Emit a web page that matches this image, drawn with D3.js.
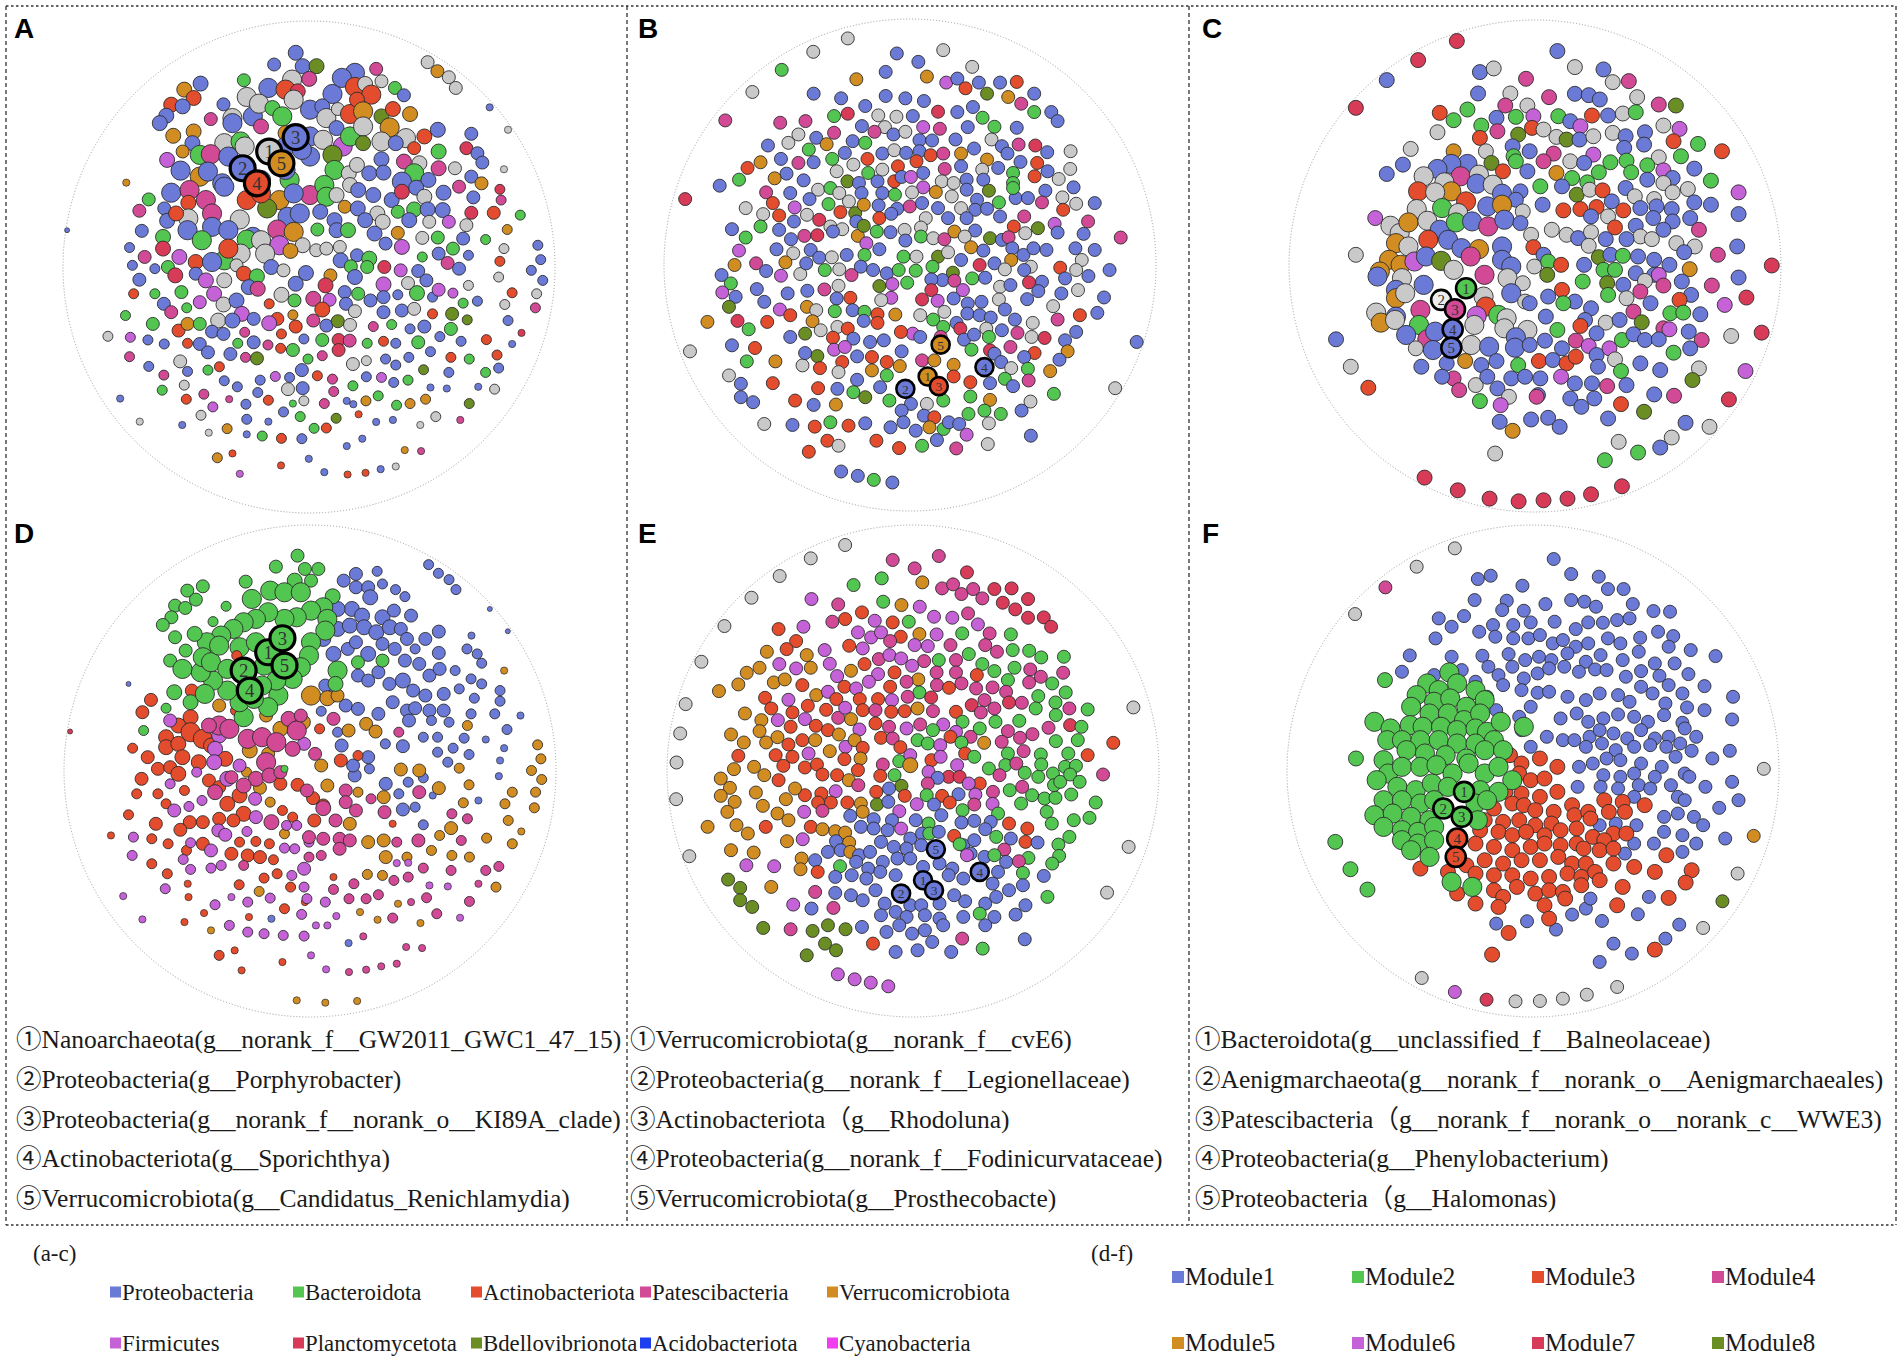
<!DOCTYPE html>
<html>
<head>
<meta charset="utf-8">
<script src="https://cdn.jsdelivr.net/npm/d3@7"></script>
<style>
  body { margin: 0; background: #fff; }
</style>
</head>
<body>
<div id="chart"></div>
<script>
////////////////////////////////////////////////////////
//////////////////// Data //////////////////////////////
////////////////////////////////////////////////////////

// node colour codes -> colours (phyla for a-c, modules for d-f share the palette)
let nodeCodes = ["b", "g", "r", "p", "o", "v", "c", "l", "y"];
let nodeColors = ["#6b7ad6", "#52c650", "#e34c2c", "#d24a96", "#d18d22", "#c662d8", "#d83b58", "#6b8e24", "#c9c9c9"];

let phyla = ["Proteobacteria", "Bacteroidota", "Actinobacteriota", "Patescibacteria", "Verrucomicrobiota",
             "Firmicutes", "Planctomycetota", "Bdellovibrionota", "Acidobacteriota", "Cyanobacteria"];
let phylaColors = ["#6b7ad6", "#52c650", "#e34c2c", "#d24a96", "#d18d22",
                   "#c662d8", "#d83b58", "#6b8e24", "#1d3ff0", "#f03df0"];

let modules = ["Module1", "Module2", "Module3", "Module4", "Module5", "Module6", "Module7", "Module8"];
let moduleColors = ["#6b7ad6", "#52c650", "#e34c2c", "#d24a96", "#d18d22", "#c662d8", "#d83b58", "#6b8e24"];

// node layout coordinates: "x,y,code+degreeClass"
let nodesA = [["b3",
 "725,160,b4 672,195,b3 742,200,b4 776,200,l4 922,208,p3 1048,188,y3 1072,215,o3 1100,233,y3 870,220,b5 716,240,y5 " +
 "492,252,b4 452,270,o4 475,295,r4 598,242,g3 658,265,b5 700,270,r5 730,275,c4 758,238,p4 815,283,b5 838,235,b5 870,262,r5 895,253,y4 910,285,r5 935,245,y3 968,265,g3 990,287,b3 1117,265,y3 605,292,y5 720,300,y5 " +
 "420,315,r4 448,320,b4 408,348,b4 392,370,b4 517,358,p3 548,314,b3 570,355,y5 620,350,b5 635,312,y5 668,325,g4 692,350,g5 760,330,b5 790,320,b4 800,355,y5 828,328,y3 858,343,r5 875,300,r4 890,335,o5 935,350,l4 955,383,o5 963,328,r4 1005,343,o4 1200,323,b1 " +
 "425,408,o4 475,395,o4 472,430,b4 550,430,y5 590,425,g5 760,410,b5 792,420,y5 825,385,b4 840,440,v5 858,410,g5 890,380,y5 890,430,l4 935,425,y5 995,415,y5 970,430,b4 1040,410,r4 1073,390,b4 1015,445,r3 1155,402,b3 1245,390,y1 570,370,b5 640,380,p4 700,400,o4 " +
 "410,480,v4 448,455,o3 490,465,g5 517,463,p5 760,470,b5 815,465,l5 935,478,b4 990,485,p4 1028,490,y4 1075,455,g4 1143,445,c3 1170,460,b3 1182,488,b3 560,470,b5 600,440,y5 700,440,b5 740,450,b5 " +
 "443,512,b5 490,530,o5 510,515,b5 640,540,b5 710,540,g5 820,510,g5 855,520,y4 875,495,y4 905,520,b4 940,518,b4 1015,520,g5 985,545,b5 1050,540,b4 1075,505,p4 1115,505,y3 1155,530,b3 1235,508,y1 310,548,o1 545,550,b5 700,510,b5 " +
 "420,578,b5 465,570,p5 365,598,g3 462,608,r4 505,600,p5 550,560,b5 605,600,r5 685,600,o5 760,585,p5 795,555,g5 800,590,g5 825,585,y4 858,555,y4 878,570,b4 915,585,b4 960,600,b4 985,575,c4 1020,563,b4 1180,550,o3 1160,592,b3 1225,568,c2 1228,600,p2 1125,560,p3 1087,578,b4 1040,590,y4 655,625,l5 640,580,r5 720,580,b5 " +
 "342,632,p3 403,625,b3 462,655,y5 520,640,p5 410,662,b4 588,658,y5 705,650,b5 735,640,b5 785,635,b4 845,620,o3 877,625,b4 925,640,y4 975,635,g3 1015,628,g4 1003,660,b4 1048,628,b4 1085,630,b4 1052,665,y3 1100,665,v3 1155,638,c3 1210,638,r3 1275,645,g2 895,660,b4 938,665,y4 820,660,b4 432,640,r4 " +
 "348,692,b3 460,690,b5 520,680,b5 560,690,b5 620,710,b5 680,688,p5 720,695,o5 400,710,g4 495,720,g5 605,718,g5 640,720,y5 778,688,g3 825,690,b4 853,690,g4 918,700,b4 975,698,o3 1035,713,y3 1073,712,g3 1143,675,y3 1135,715,b3 1190,718,g2 1243,688,o2 1318,735,b2 742,735,y4 775,750,y3 800,745,y3 833,740,y3 165,690,b0 " +
 "355,770,p3 400,745,c4 440,770,v4 480,785,r4 550,780,g5 520,785,b5 685,735,v5 650,760,y5 712,752,o4 835,780,b4 875,765,b3 905,775,g4 985,740,v4 945,730,b3 1035,770,g2 1075,760,b3 1110,745,g3 1097,788,p3 1235,745,y2 1225,783,r2 1148,765,b2 1325,778,b2 318,742,b2 590,760,y5 560,745,r5 " +
 "325,795,b2 342,838,b3 380,805,b2 412,800,g3 430,825,c4 480,820,b3 505,840,v4 550,840,y4 580,795,y3 598,820,r4 630,828,g4 665,800,b4 695,810,y3 750,818,b4 725,850,b4 810,825,o3 860,798,g3 900,800,g3 870,830,b4 942,800,c3 982,810,v3 1025,812,b3 1045,840,b3 1000,848,y3 940,852,v4 1125,805,b3 1222,830,y2 1302,810,b2 1330,840,b2 1148,855,y2 610,860,b4 798,855,c4 " +
 "328,880,r2 380,880,g2 445,875,g3 402,910,b3 490,905,v3 525,880,v4 548,912,y4 632,865,p4 690,883,y4 722,900,g3 768,895,p4 808,898,v3 845,875,b3 848,910,b3 878,880,g3 908,900,b3 940,890,b3 975,883,b2 1022,878,g4 1060,890,b2 1075,868,v3 1110,878,v2 1170,902,b2 1135,908,g2 1255,877,r2 1315,880,y2 1237,912,y2 580,900,b4 " +
 "308,945,g2 420,935,p3 458,922,g2 535,960,y4 593,940,v4 570,960,b4 622,955,b3 660,910,r2 680,955,r3 718,943,o2 790,927,r4 768,960,p3 870,932,y3 940,935,b3 985,930,b3 1015,925,y3 1060,940,r2 1108,940,l3 1145,958,l2 1245,960,b2 1312,922,p2 660,968,v4 800,975,b3 828,962,l3 858,973,y3 " +
 "375,970,g3 438,990,r3 460,970,o3 490,970,g3 520,993,b3 548,1000,b3 600,995,p2 690,1000,r2 725,978,r3 745,1015,b2 790,1018,g3 830,1018,c3 857,1020,p3 915,978,p2 960,972,g2 1005,985,b2 1040,978,b3 1105,985,g3 1078,1008,b2 1278,997,c1 265,1007,y2 320,1010,v2 363,1018,b2 403,1030,b2 460,1028,r2 490,1030,b3 583,1028,g2 622,1025,b3 657,1033,p2 900,1028,g2 940,1022,r2 970,1028,b2 1025,1025,g3 1130,1022,b2 1192,1017,r2 1255,1030,b1 " +
 "318,1068,p2 365,1097,b2 538,1098,r2 510,1055,b3 565,1060,b3 602,1070,p2 630,1073,l3 688,1043,r2 718,1048,g3 755,1075,g2 790,1065,p2 830,1048,c3 865,1090,y3 898,1080,y2 945,1075,b2 970,1093,b2 1002,1070,b2 1055,1053,b2 1105,1070,r2 1150,1075,g2 1218,1063,r2 442,1082,y3 510,1108,g2 " +
 "402,1123,p2 460,1112,b2 550,1140,b2 452,1153,y2 582,1158,b2 675,1127,v2 638,1138,b2 710,1130,b2 740,1108,b3 778,1125,r2 815,1135,p2 898,1128,b2 935,1130,v2 965,1145,b2 1000,1138,g2 1038,1107,l2 1100,1115,b2 1190,1115,g2 1222,1102,b2 398,1168,g2 500,1180,p2 632,1175,b2 706,1165,y3 742,1162,b3 865,1155,g2 1055,1160,b1 1095,1163,b1 1172,1158,b1 1212,1165,y2 " +
 "295,1193,b1 457,1195,r2 522,1218,v2 562,1195,p1 603,1210,b2 658,1198,r2 745,1200,y2 718,1208,g1 795,1208,p2 818,1172,p2 850,1200,b1 866,1210,b1 897,1200,o2 927,1185,g2 972,1213,g2 1005,1208,o2 1043,1195,o2 1150,1208,l2 695,1233,b2 493,1243,y2 " +
 "343,1262,y1 605,1255,b2 658,1262,b1 736,1247,g2 824,1252,l2 879,1240,r1 922,1263,b1 963,1257,b1 1030,1272,y1 1068,1247,y2 1128,1257,p1 447,1272,b1 557,1283,o2 512,1295,y1 770,1282,g2 800,1281,r2 " +
 "605,1300,b1 643,1305,g2 690,1312,r2 740,1313,b2 888,1313,b1 850,1335,b1 992,1347,o1 1032,1350,p1 533,1370,o2 570,1357,r1 757,1373,b1 689,1393,r1 588,1418,v1 795,1413,b1 852,1420,r1 896,1415,r1 933,1404,b1 970,1396,y1"]];

let nodesB = [["b3",
 "625,118,y 532,158,y 757,163,b 815,188,b 882,153,y 960,203,y 447,212,g 727,218,b 838,232,o 648,240,o 890,250,v 920,238,b 942,267,r 978,250,b 1035,250,b 1080,248,r 1000,283,l 1057,293,o 1127,283,b 1092,313,p 368,278,y 533,283,b 607,297,b 727,290,b 780,297,b 830,305,b 672,320,b 868,337,c 920,338,b 962,323,b 988,355,g 1127,338,g 1173,338,b 1190,365,b " +
 "295,363,p 443,370,p 511,365,p 588,350,g 625,343,c 707,348,y 756,352,y 800,350,b 725,383,y 663,380,b 697,397,p 748,405,b 828,383,v 873,388,p 948,383,b 1020,382,g 1080,385,b 1012,420,y 492,405,y 465,430,y 410,438,b 588,400,p 540,415,b 568,434,o 638,425,b 672,430,g 780,397,y 818,422,b 852,423,b 915,420,b 1085,435,p 1130,438,c 1040,440,b 1162,458,b 1225,455,y " +
 "520,450,g 445,478,b 492,490,p 533,488,b 617,460,b 583,478,g 678,478,r 718,462,b 750,452,y 782,460,b 818,455,b 848,467,r 882,462,p 930,462,o 965,447,b 1000,480,o 1055,462,b 1090,487,b 1135,490,r 355,505,r 390,488,o 460,522,b 332,540,g 428,536,o 506,542,b 595,515,y 640,495,y 680,520,g 718,510,y 760,500,r 810,485,r 828,520,b 886,508,p 930,500,b 987,510,y 1030,505,b 1070,520,g 1128,530,r 1163,515,b 1193,538,y 1224,508,y 624,545,l 655,550,b 705,545,b 750,545,r 770,532,b 795,532,v 828,563,v 878,545,y 910,550,y 945,540,b 990,540,b 1070,550,g 1233,563,b " +
 "187,598,c 280,558,b 405,578,p 545,570,y 578,565,g 602,580,y 522,598,b 470,580,b 423,610,r 482,623,v 350,625,y 397,643,y 440,647,r 573,613,g 628,605,y 662,580,b 718,580,b 752,585,g 798,578,y 862,577,o 905,590,y 945,570,b 973,600,b 1005,573,l 1032,608,g 1077,595,b 1110,595,b 1157,573,b 1148,608,p 1203,593,y 1240,612,y 1290,610,b 1070,565,g 605,637,r 645,640,l 668,615,o 708,617,b 758,627,b 792,620,p 825,610,b 868,625,b 930,625,y 968,630,b 1000,627,b 1205,630,r 515,645,y 548,660,c 480,665,b 578,680,y 610,688,y 648,665,b 710,655,r 742,642,b 835,655,y 895,655,b 945,655,b 1035,650,b 1100,650,p 1072,680,r 1182,672,v 1272,665,p 390,680,g 440,690,b 313,688,b " +
 "350,713,g 332,752,v 472,718,b 508,708,p 543,706,c 585,695,b 652,708,o 668,678,l 703,695,g 740,697,b 778,690,y 822,683,y 822,710,g 855,715,y 885,718,p 912,695,o 968,692,b 940,710,y 1008,715,l 1040,720,b 1058,712,p 1103,700,y 1137,685,l 1190,698,b 1260,702,b 1360,713,p 433,748,b 478,760,y 525,750,b 548,773,b 582,772,y 622,765,b 675,730,v 670,765,g 710,748,b 780,722,b 775,770,g 810,770,y 868,770,l 895,757,y 930,780,b 957,742,o 990,752,b 1068,745,b 1098,765,b 1125,745,b 1160,750,b 1238,745,b 1290,750,b 1255,780,y 1065,780,o 1118,800,y 980,795,c 1020,790,b 1197,803,r 1240,810,y 1210,835,b 1273,828,b 1330,810,b " +
 "285,825,b 320,795,o 378,790,p 457,787,o 405,813,b 445,827,v 497,822,y 513,790,b 563,810,g 602,808,y 635,825,p 660,800,b 693,810,b 730,820,b 762,810,g 808,812,g 853,800,g 908,818,l 880,840,b 960,835,g 995,833,b 1048,808,y 1100,810,b 1113,847,c 1148,845,b 310,850,g 323,890,b 287,877,v 380,867,b 463,880,b 516,872,b 562,868,p 600,857,y 595,895,b 710,858,l 745,852,v 785,848,g 850,838,b 850,870,c 912,842,p 935,870,v 1035,860,y 1063,855,b 1138,873,b 1200,880,b 1245,870,y 1315,892,b 305,920,l 400,905,b 442,928,v 515,920,o 540,930,y 632,893,r 742,893,v 715,900,y 825,898,c 867,902,v 910,895,b 948,910,b 985,905,b 1032,898,y 1108,897,b 1178,918,y " +
 "470,945,r 590,933,g 638,930,b 670,935,g 705,942,r 753,943,o 820,945,y 885,935,y 947,940,b 980,945,b 1010,952,b 1048,928,b 1250,945,r 1297,938,b 1190,958,p 247,965,o 328,962,c 408,965,r 358,987,g 530,963,o 552,990,y 597,980,y 668,962,b 705,968,r 855,958,g 882,980,g 918,968,b 928,985,c 998,985,y 1040,990,b 1075,958,b 1123,968,y 1082,998,p 1120,1010,y 1240,995,b 1155,1013,c 1210,1020,b 470,1010,b 510,1000,l 585,1012,r 800,1000,v 625,985,r 640,1015,b 685,1025,b 722,1020,b 768,995,r 820,1010,b 875,1010,p 938,1018,b 965,1003,b 1005,1010,g 1063,1040,p 1008,1050,c " +
 "200,1053,y 313,1035,b 375,1043,r 588,1048,v 617,1040,v 650,1068,b 690,1070,r 730,1085,r 770,1053,b 765,1097,o 825,1080,p 858,1080,o 910,1093,o 958,1048,g 1020,1060,b 1038,1085,b 1128,1058,r 1100,1070,b 1217,1053,o 1195,1078,b 1403,1025,b 353,1083,g 430,1083,o 503,1095,y 543,1067,l 610,1085,r 550,1103,r 510,1058,b 690,1110,o 730,1125,g 910,1128,r 955,1145,r 1065,1103,y 1110,1105,g 1048,1135,g 1112,1140,p 1170,1112,o 305,1125,y 337,1150,b 423,1148,r 600,1115,y 650,1138,b 712,1160,b 597,1165,b 545,1163,r 1070,1157,b 1345,1163,y 1180,1180,g 1008,1148,b " +
 "337,1190,b 370,1205,b 483,1200,r 533,1213,b 593,1212,o 640,1175,g 672,1190,l 737,1200,g 795,1210,b 838,1210,y 882,1200,g 955,1188,g 1008,1198,o 1037,1240,g 1117,1203,y 1093,1230,b 1118,1305,b 400,1270,y 476,1273,b 536,1278,r 578,1265,g 627,1275,r 672,1268,b 740,1280,b 770,1230,b 775,1265,b 808,1290,b 830,1245,b 858,1250,r 845,1280,o 883,1285,g 897,1265,b 925,1270,b 950,1240,g 993,1230,g 1005,1268,y 945,1302,v 865,1318,b 570,1320,r 600,1335,y 520,1353,r 702,1320,r 763,1342,r 825,1335,g 917,1343,p 1002,1330,y 607,1412,b 652,1425,b 695,1437,g 745,1445,b"]];

let nodesC = [["b4",
 "602,125,c 518,182,c 820,155,b 450,242,b 652,218,b 682,207,y 858,203,y 920,210,b 752,238,p 940,248,y 975,245,p 383,325,c 648,282,b 718,282,y 802,293,p 858,283,b 888,287,b 912,300,b 993,293,y 1040,315,p 1077,318,l 565,340,r 625,330,g 595,362,g 755,318,y 707,318,p 688,355,b 730,352,g 768,350,v 822,350,g 895,348,r 930,348,b 962,342,y 990,338,g 848,365,b 870,380,v 1050,378,y 1085,388,v 560,398,y 655,378,g 652,415,r 690,395,p 735,405,l 765,385,r 790,390,y 818,412,y 840,420,l 868,420,b 898,410,y 940,400,y 968,410,b 1010,398,b 1008,435,b 1072,425,r 1125,433,g 1177,455,r " +
 "502,448,y 595,455,o 485,495,b 450,523,b 665,455,y 723,440,b 725,470,g 760,455,b 812,462,p 898,465,v 965,445,b 1040,473,y 1088,470,g 677,490,l 625,493,b5 590,493,b5 560,508,b5 610,530,p5 530,530,y5 702,515,r 730,485,g 790,485,p 848,485,y 878,490,b 910,518,g 935,488,g 970,483,g 1015,497,g 1050,512,v 1117,507,b 818,520,o 852,535,g 755,515,b 650,525,y5 575,548,y5 518,575,r5 645,552,b5 680,555,y5 885,548,g 980,518,g 1070,535,b 1153,543,g 1015,540,b 1050,550,y 700,582,b5 590,575,o5 555,578,y5 740,575,b 783,560,g 830,560,b 862,585,l 890,570,y 918,572,r 968,565,b 988,590,y 1030,598,y 1070,578,y 1103,568,y 1213,578,v " +
 "425,655,v 458,678,y5 515,628,y5 570,625,g5 622,605,r5 605,640,y5 668,620,b5 730,600,b 700,615,o5 745,635,y 788,615,b 833,632,r 870,628,r 905,622,r 938,605,b 963,632,r 1000,625,b 1035,620,b 1068,628,b 1117,608,b 1153,615,b 1213,643,b 478,700,y5 497,668,o5 538,663,y5 565,690,b5 600,668,g5 635,665,b5 670,680,p5 705,660,b5 740,670,b 763,705,y 893,650,b 930,650,y 1028,655,b 1070,665,b 1108,655,b 1127,690,p 990,678,b 1000,710,y 1025,718,y 1050,690,b 808,690,y 840,705,y 865,715,b 893,697,y 925,718,b 945,683,r 970,718,b 470,730,o5 497,740,y5 540,720,r5 583,720,b5 612,745,b5 650,748,o5 700,740,b5 768,742,r 790,765,b 888,738,y 1078,730,y 1118,740,y 1095,757,b 1168,765,p 1210,740,b 1285,797,c " +
 "383,765,y 455,780,o5 480,795,o5 510,785,v5 535,770,b5 568,783,l5 595,810,y5 632,770,p5 662,825,p5 700,780,b5 720,800,b5 770,800,y 800,785,g 828,795,r 910,772,l 935,765,b 962,768,g 995,770,b 1030,780,b 1063,795,b 1030,825,b 1107,808,o 878,795,b 920,810,g 945,810,g 990,820,b 1040,825,v 1050,857,p 1090,845,b 1155,857,p 1213,833,b 435,815,o5 483,835,y5 430,830,b5 530,855,b5 712,835,y5 745,850,y 798,825,l 875,845,g 928,850,l 963,855,b 1010,843,y 1110,885,b 1230,893,c 830,870,r 470,870,b5 470,895,o5 490,880,y5 660,890,y5 665,920,r5 720,880,b5 750,905,y 800,890,b 858,905,b 833,910,g 930,885,g 970,895,y 1000,875,p 1022,910,b 1085,900,r 1183,915,v " +
 "523,930,p5 470,950,b5 427,938,y5 437,968,o5 468,960,y5 520,975,g5 645,948,v5 692,945,g5 710,955,y5 760,910,b 795,950,b 893,925,b 880,960,b 925,968,y 955,960,b 985,935,p 1065,940,g 1093,938,g 1130,943,b 538,1018,p5 492,1005,b5 555,995,b5 640,975,y5 705,985,y5 755,990,y5 730,1012,b5 870,978,r 820,990,g 905,1000,b 1003,967,l 1050,985,p 1063,988,v 1105,995,b 1197,1008,y 1263,998,c 1228,1113,v 340,1018,b 372,1100,y 410,1163,r 513,1045,y 550,1050,b5 633,1035,y5 672,1040,b5 728,1043,b5 760,1035,b 793,1022,b 830,1045,b 860,1022,p 888,1038,v 905,1065,b 933,1045,v 960,1020,g 985,1003,b 1010,1020,b 1040,1018,b 1133,1020,p 1108,1045,b 1072,1058,g " +
 "525,1100,b 580,1090,b 620,1083,o 655,1095,b 688,1083,b 735,1095,g 780,1083,r 810,1080,b 840,1090,r 860,1070,r 945,1078,y 908,1100,b 958,1113,g 1000,1090,b 1043,1110,b 1127,1105,y 1113,1140,l 595,1135,p 570,1130,b 607,1170,p 643,1155,y 668,1130,b 690,1165,b 720,1135,b 750,1130,b 783,1135,b 828,1130,v 858,1150,b 895,1150,b 928,1158,p 970,1155,b 715,1190,y 778,1185,b 775,1190,p 848,1195,b 872,1220,b 900,1195,b 697,1215,v 652,1203,g 958,1212,r 1008,1235,l 1030,1183,b 1073,1187,p 1192,1198,c 695,1265,b 723,1292,o 763,1258,b 800,1253,b 825,1280,b 930,1255,b 1098,1268,b 1150,1280,y 953,1325,y 1068,1312,y 1043,1342,b 995,1357,g 923,1380,g 685,1360,y 532,1432,c 604,1470,c 673,1495,c 736,1503,c 790,1500,c 842,1495,c 893,1482,c 960,1458,c"]];

let nodesD = [
 ["b3", "845,215,b3 875,195,b3 875,235,b3 905,235,b3 927,187,b2 940,225,b2 972,242,b2 995,263,b2 1053,167,b2 1077,193,b2 1103,212,b2 1120,242,b2 910,265,b4 865,300,b4 890,320,b4 830,300,b4 940,325,b4 968,305,b3 1010,320,b3 830,360,b4 860,350,b4 895,355,b4 925,370,b4 958,355,b4 985,360,b3 1000,390,b3 1045,390,b3 1078,368,b3 1020,420,b2 1078,432,b3 1147,420,b2 1172,435,b2 1183,463,b2 1158,380,b1 795,390,b4 820,435,b4 855,420,b3 875,400,b3 905,435,b4 940,405,b3 970,420,b3 995,455,b3 1030,465,b3 1055,500,b3 1080,480,b3 1118,485,b2 1157,510,b2 1183,525,b2 1228,545,b2 1228,577,b2 1247,367,b0 1203,300,b0 880,500,b3 905,515,b3 930,490,b3 957,525,b3 990,515,b4 1015,545,b3 1045,560,b3 1090,555,b3 1128,540,b2 1165,568,b2 800,530,b3 820,560,b3 850,590,b3 880,600,b3 930,615,b3 965,580,b3 1000,605,b3 1020,598,b3 1055,605,b3 1090,605,b3 1005,635,b3 1060,635,b2 1103,640,b2 1157,615,b2 1215,615,b2 1278,620,b1 1245,662,b2 1193,692,b1 1140,688,b2 1075,685,b2 1040,685,b2 990,712,b3 947,705,b2 790,607,b2 830,670,b2 840,710,b3 1075,730,b2 1113,718,b2 1100,760,b2 1152,737,b2 1238,718,b1 1228,755,b1 1225,802,b1 905,745,b3 908,780,b2 872,800,b3 868,770,b3 948,825,b3 980,855,b2 1003,820,b2 1040,807,b2 1063,860,b1 1020,895,b2 990,902,b3 1040,948,b2 1175,875,b1 318,525,b0 857,1303,b1 668,1230,b1 175,668,c0"],
 ["o2", "765,560,o5 805,568,o4 830,560,o3 540,590,o3 900,645,o3 923,668,o3 857,665,o3 745,640,o4 690,660,o4 655,620,o3 615,725,o4 660,735,o3 607,790 640,837,o3 665,880 790,770,o3 805,830,o3 985,782,o3 1030,785,o3 1078,838,o3 1128,778 1152,828 1138,882 1108,958,o3 1080,980 1000,1045 1060,1025 948,1045,o3 943,995,o3 905,1000,o3 880,850 943,865,o3 860,945,o3 1148,650 1238,485,o1 1320,708 1328,750 1305,785 1330,812 1258,850 1315,850 1240,885 1312,897 1248,935 1280,968,o1 1258,1005 1195,988 1153,1045 1218,1135 1110,1040 903,1097 940,1100 638,1148 700,975 978,1185,o1 885,1210,o1 928,1233,o1 1033,1243,o1 520,1265,o1 730,1475,o1 800,1482,o1 878,1477,o1"],
 ["r3", "373,573 352,610 473,545 580,605,r2 470,625,r4 440,650,r4 470,670,r5 410,685,r4 410,715,r4 440,705,r4 500,690,r5 520,710,r4 555,750,r4 490,760,r4 450,745,r4 365,745 328,718,r2 390,780 420,775 440,795,r4 350,810 338,855,r2 390,855,r2 455,845,r2 410,885,r2 515,815 540,835 560,885,r4 590,860,r4 600,915,r4 575,935 540,930 500,940 468,940 445,963 385,945 318,918,r2 275,980,r1 375,990,r2 415,1005,r2 460,1025,r2 500,1005 570,1035 610,1040 640,1045 590,1000,r2 630,998,r2 663,1005,r2 673,1053,r2 650,1108,r2 682,1095,r2 715,1135,r2 589,1128,r2 463,1125,r1 465,1165,r1 503,1213,r1 455,1240,r1 613,1225,r1 700,1200,r2 732,828 770,868 795,890 690,825 720,925,r2 773,935 695,905,r2 786,660,r2 838,755 880,740,r2 965,945,r1 820,1105,r1 375,1065,r2 413,1095,r2 540,1340,r2 578,1325,r1 595,1385,r1 695,1360,r1 750,1180,r1"],
 ["v2", "420,635,v3 540,680,v4 530,720,v4 528,760,v4 560,810,v4 590,770,v3 485,790 420,825 430,905,v3 498,875 466,893 628,870,v3 630,925,v3 748,705,v3 705,950 730,950 538,965,v3 555,978,v3 608,968 520,1025,v3 470,1002 330,985 327,1040 452,1052 470,1082 520,1078 545,1070 700,1018 725,1020 748,1080,v3 718,1100 748,1135 760,1000 408,1140 530,1188 570,1165,v1 610,1180 665,1168 755,1170 800,1180 742,1217 565,1250 610,1270 650,1275 697,1280 748,1282 777,1250,v1 805,1250,v1 827,1222,v1 765,1340,v1 802,1382,v1 352,1232,v1 305,1162,v1 1100,1133,v1 1130,1227,v1 1055,1130,v1 1003,1062,v1 975,1063,v1"],
 ["p3", "540,650,p5 515,650,p4 565,660,p5 610,690,p5 645,685,p5 680,700,p5 710,630,p4 730,665,p5 720,720,p4 775,735 740,620 820,630 655,760,p5 630,810,p4 600,830,p4 663,800,p4 690,790 530,850,p4 570,805 755,845 795,898,p4 850,845 850,880 875,905 825,935 760,985 795,990 835,990 860,995 835,1020 790,1040,p2 760,1045,p2 668,940,p4 980,670,p2 912,870,p2 945,910 975,1000,p2 1030,850 1110,915,p2 1148,930,p2 1028,995 1040,1078,p2 1108,1085,p2 1003,1105,p2 968,1115,p2 870,1125,p2 820,1142,p2 858,1170,p2 900,1170,p2 930,1158,p2 1010,1180,p1 1048,1167,p2 1073,1215,p2 1153,1178,p2 1175,1125,p1 1193,1085,p2 1225,1073,p2 1133,995,p2 965,1228,p2 893,1283,p1 998,1315,p1 1037,1318,p1 975,1365,p1 937,1373,p1 900,1383,p1 858,1390,p1 600,1070,p2"],
 ["g5", "732,140,g3 679,173,g3 750,180,g3 783,180,g3 605,218,g3 725,215,g4 765,215,g3 500,232,g3 462,245,g3 483,272,g3 432,290,g3 457,297,g3 423,325,g3 402,348,g3 557,292,g2 525,338,g2 620,270 665,245 700,250 740,250 818,262,g4 795,295 765,305 730,325 700,330 660,310 630,330 600,340 575,360 545,380 510,400 480,375,g4 432,385,g3 458,425,g3 420,455,g3 805,330 800,365 765,400 760,440 740,475 720,510 685,560 660,595 600,625 590,580 625,570 560,545 525,515 495,490 500,445 520,460 450,480 430,550,g4 470,580,g4 505,555 410,598,g2 355,665,g2 540,410 590,415 630,400 650,470 680,515 645,530 560,480 880,460,g3 940,455,g3 830,485 825,525,g4 700,780,g1 583,440,r2"]];

let nodesE = [["b3",
 "622,110,y 528,150,y 443,203,y 366,268,y 292,353,y 229,460,y 186,587,y 171,675,y 161,762,y 160,872,y 196,1043,y 1410,597,y 1397,1015,y 1338,1152,y " +
 "752,155,p 878,143,p 812,180,p 955,192,c 722,210,g 833,222,o 645,230,g 887,240,p 917,228,p 940,257,p 972,242,p 997,270,p 1030,242,c 1077,240,c 1053,283,c 1087,303,c 1122,272,c 1165,327,c 1185,355,c 1122,328,c 958,315,p 1017,375,p 530,272,v 603,288,p 726,280,g 776,290,o 826,295,v 668,312,r 587,340,p 622,332,r 703,337,v 752,342,r 796,340,g 865,325,v 915,328,v 985,348,v " +
 "440,362,r 508,355,v 657,372,v 693,387,v 720,372,v 774,385,r 825,377,o 872,378,v 942,375,g 1075,378,g 488,398,r 462,422,r 408,430,o 517,440,o 566,425,v 633,412,r 670,420,v 745,398,p 812,410,v 848,413,v 910,410,p 1005,410,p 1080,425,g 1125,427,g 1158,447,g 1220,445,g 1037,430,p 960,437,g 675,467,r 714,452,p 743,440,v 775,450,v 838,458,p 878,455,g 925,455,p 997,467,g 1030,488,g 1085,478,g 1128,483,p 1157,505,p 1218,493,p 1188,525,g 442,467,v 488,480,v 528,478,o 580,466,v 638,487,o 600,503,v 505,530,r 712,497,v 757,492,r 805,472,v 822,513,o 872,492,p 925,492,p 982,500,r 1067,515,g 1125,522,p 353,493,o 388,478,o 277,548,o 330,528,o 427,522,o 457,513,o " +
 "543,560,o 620,535,r 652,540,v 687,520,v 745,535,r 790,520,p 825,552,g 873,530,p 906,538,r 940,525,p 980,540,p 1025,537,p 1062,550,p 1150,563,g 1225,552,g 575,550,v 403,568,r 467,574,v 520,592,r 598,572,r 662,572,r 712,572,r 750,575,v 793,565,p 857,567,c 968,590,c 1003,575,p 1070,582,c 1105,583,p 1197,582,g 1143,600,g 1235,600,p 1285,603,g 348,615,o 420,600,r 438,635,v 478,612,r 512,632,v 570,604,r 603,628,p 622,598,v 638,632,o 670,605,r 705,605,p 748,610,r 785,608,r 820,600,o 862,608,p 925,610,r 943,640,g 993,612,p 1030,600,p 1033,640,g 1098,637,g 1198,620,g 1237,650,c 1268,655,g 310,678,o 393,635,o 388,668,o 473,655,r 542,652,r 575,665,r 605,678,o 661,663,v 705,645,r 742,655,p 827,648,p 890,648,v 790,660,v 862,665,g 925,670,v 965,685,p 990,660,g 1067,668,p 1100,688,p 1178,658,p 1134,677,p " +
 "345,702,o 406,702,o 437,686,o 467,708,r 505,695,r 540,695,o 623,715,v 648,695,o 670,718,r 720,688,r 752,690,p 773,716,r 820,695,g 848,705,g 882,710,v 910,685,r 940,702,g 1002,703,o 1050,700,p 1067,735,g 1110,728,p 1157,738,g 1198,698,g 1232,735,g 1258,695,g 1285,740,r 1355,703,r 330,742,r 432,740,r 478,745,r 522,735,v 580,728,o 620,752,r 664,750,o 725,768,p 770,758,g 800,740,v 800,770,o4 858,755,r 883,745,v 950,735,r 928,770,v 975,745,g 1015,780,g 1060,770,g 1090,765,p 1113,793,g 1158,768,g 1190,795,g 1223,775,g 1253,772,g 1327,798,p 318,782,o 373,775,o 401,800,o 453,772,r 512,777,r 545,768,r 560,798,r 600,800,r 632,815,o 657,785,r 757,800,g 776,832,l 718,802,r 850,790,v 905,805,c 935,805,c 990,825,r 960,825,v 1044,800,p 1150,805,g 1193,830,g 1210,820,g 1237,798,g 1263,820,g " +
 "282,810,o 307,838,o 282,862,o 320,880,o 300,910,o 378,852,o 397,892,o 437,915,o 460,872,o 440,815,r 512,860,r 485,840,o 557,855,r 596,848,v 658,830,p 707,850,r 742,840,b 875,808,b 848,825,p 845,860,g 887,862,r 932,857,b 978,858,v 1026,850,p 1072,845,g 1106,835,p 1133,860,g 1167,870,g 1197,868,g 1240,858,g 1307,882,g 548,882,r 583,882,r 628,882,r 665,885,o 709,888,l 740,880,b 785,862,r 818,887,v 865,888,b 908,882,r 975,888,p 1025,886,v 943,905,g 1040,915,g 1103,885,g 510,910,v 560,907,p 670,910,o 636,922,b 770,908,v 700,932,b 750,935,b 815,935,b 850,945,g 885,920,b 940,942,b 975,937,b 1020,940,b 1070,945,r 1120,960,r 1173,910,g 1187,945,g 1247,935,g 1290,928,g 246,955,o 325,950,o 356,975,o 405,955,r 467,935,o 528,955,r 560,962,o 595,968,o 622,972,o 665,955,b " +
 "700,960,b 738,965,b 775,960,v 800,990,b 832,975,b 852,975,g 878,970,b 920,982,r 945,1010,b 975,995,b 1005,962,b 1035,985,g 1075,990,b 1115,1000,r 1148,1002,b 1235,985,g 1205,1008,g 463,998,o 506,992,v 597,998,b 633,1002,o 575,1030,b 610,1025,b 636,1030,o 660,1040,b 720,1000,b 690,1030,b 755,1015,b 790,1020,b 830,1010,b 935,1007,g 1057,1023,p 965,1035,b 1003,1045,b 1030,1040,g 1123,1048,g 1207,1042,g 310,1025,o 372,1032,o 503,1050,o 540,1055,b 608,1073,g 652,1060,b 685,1080,b 725,1060,b 765,1050,b 800,1050,b 835,1075,b 880,1065,b 915,1080,b 955,1040,v 1040,1090,b 1062,1060,b 1097,1058,p 1108,1093,g 1188,1065,g 1165,1102,b 352,1070,v 428,1073,v 500,1082,o 547,1090,r 302,1113,l 335,1138,l 335,1175,l 368,1195,l 420,1135,o 595,1105,b 640,1100,b 680,1110,b 718,1090,b 760,1100,b 905,1100,b 945,1110,b 1025,1125,b 1070,1145,b 1108,1130,b 1175,1165,g " +
 "540,1150,p 480,1188,v 530,1200,b 590,1198,p 595,1153,b 638,1160,b 670,1175,b 705,1145,b 800,1190,b 730,1185,b 760,1210,b 830,1190,b 880,1185,b 950,1178,b 920,1160,b 1005,1185,b 1035,1165,b 1115,1190,b 1088,1218,b 990,1215,g 720,1220,b 790,1225,b 840,1220,b 880,1230,b 945,1225,b 1030,1225,b 1005,1250,b 398,1258,l 473,1262,p 533,1267,l 575,1250,l 623,1262,l 668,1255,b 735,1270,b 770,1250,b 805,1275,b 840,1265,b 890,1250,b 860,1300,b 942,1290,p 1113,1292,b 567,1305,l 597,1325,l 517,1340,l 698,1305,r 760,1330,b 820,1325,b 912,1330,b 998,1320,g 602,1397,v 648,1412,v 692,1422,v 740,1433,v"]];

let nodesF = [
 ["b3", "810,147 848,192 908,200 928,237 962,237 645,207 673,197 742,227 638,270 708,272 792,282 848,270 877,275 902,290 982,282 1027,303 1063,305 560,325 588,350 615,318 678,345 698,300 745,302 760,337 812,335 858,357 885,337 917,338 948,330 975,325 553,385 648,365 683,380 722,345 722,385 755,385 780,375 808,400 830,390 858,410 885,400 928,385 955,400 998,383 1037,365 1070,378 1060,410 1108,420 1162,438 497,436 588,440 655,437 712,432 748,450 778,440 805,450 840,430 880,455 912,435 960,450 995,425 1030,460 1073,460 1103,492 480,485 550,495 610,480 668,470 690,495 720,470 745,505 775,490 800,475 833,470 865,485 900,478 925,480 967,500 1000,483 1040,497 1060,525 1090,550 1138,528 1200,560 640,515 665,560 700,525 740,540 775,548 800,545 840,560 880,570 910,550 950,555 975,575 1000,530 1025,550 1053,580 1100,592 1138,600 1198,628 685,600 735,620 760,590 825,625 860,610 885,635 918,625 950,613 985,620 1015,635 1050,615 1090,638 740,660 795,680 830,690 855,690 888,680 910,660 940,670 970,685 1000,660 1030,685 1060,680 1095,655 1120,680 1155,745 1193,722 760,710 880,710 915,700 945,720 985,710 1020,705 1055,710 1085,700 1110,722 865,770 895,760 925,745 955,750 1000,760 1045,770 1075,740 1095,790 1140,830 1198,815 1212,870 918,795 955,800 985,790 1030,800 1065,825 1105,800 862,830 912,830 950,835 995,825 1020,835 1080,860 1095,870 1170,893 985,860 1050,920 1080,910 1115,920 1135,945 910,945 945,940 990,945 1050,965 1090,975 1120,1000 1183,985 1028,1000 985,1000 965,1030 1090,1025 1017,1160 1083,1243 1053,1285 940,1300 980,1330 910,1355 850,1213 880,1195 890,1165 915,1232 993,1212 685,1240 752,1233 815,1258"],
 ["r4", "715,735 740,760 780,745 818,770 735,790 760,810 790,805 818,845 705,845 740,850 780,860 850,885 920,870 960,875 1008,885 680,895 720,880 745,885 770,900 810,905 855,915 885,905 930,905 965,905 660,930 700,935 735,930 770,945 805,940 860,955 890,925 940,970 968,970 650,960 690,965 720,975 750,965 790,975 825,960 860,1000 895,980 920,990 640,1000 680,1010 720,1020 760,1010 790,1000 825,1005 875,1015 910,1020 940,1015 985,1070 1030,1085 1055,1035 1110,1080 1097,1117 620,1065 660,1050 700,1060 740,1050 780,1050 820,1040 850,1060 880,1060 940,1060 580,1085 520,1075 640,1090 680,1095 720,1095 760,1105 800,1100 840,1090 870,1100 900,1085 600,1150 640,1180 680,1140 700,1160 730,1130 770,1150 800,1140 830,1145 870,1125 910,1110 960,1130 690,1190 790,1185 800,1225 835,1165 712,1268 676,1333 1060,1163 948,1185 1030,1318"],
 ["g5", "443,510,g4 583,487 535,520 560,540 600,520 640,540 660,570 512,555 550,575 585,565 620,590 500,590 540,610 580,610 615,630 650,610 420,635 455,655 497,645 525,650 565,650 600,660 640,655 665,665 695,635 745,650 448,690 480,690 520,690 560,690 600,700 640,700 680,690 380,745,g4 440,750 490,720 530,730 575,735 620,745 660,720 700,720 450,790 480,770 520,770 555,765 590,790 625,760 660,790 690,770 720,810 425,810 470,830 510,840 545,820 580,830 650,840 690,845 440,870 480,870 520,880 550,870 640,880 665,870 420,915 460,910 500,920 540,930 645,930 440,950 480,960 515,965 550,950 480,990 515,1000 550,990 500,1020 540,1040 335,995,g4 368,1077,g4 405,1138,g4 588,1115 633,1130"],
 ["y3", "595,115 512,170 444,232,p 378,312 1267,776 1245,977,o 1210,1090 1177,1173,l 1135,1253 523,1403 595,1445,v 664,1468,c 727,1473 780,1472 830,1465 882,1453 948,1430"]];

// highlighted key nodes per network: x, y, colour code, label
let hubsA = [[660, 455, "y", "1"], [595, 505, "b", "2"], [725, 412, "b", "3"], [630, 550, "r", "4"], [690, 490, "o", "5"]];
let hubsB = [[840, 1128, "o", "1"], [780, 1165, "b", "2"], [870, 1157, "r", "3"], [993, 1100, "b", "4"], [875, 1033, "o", "5"]];
let hubsC = [[622, 865, "g", "1"], [568, 900, "w", "2"], [598, 928, "p", "3"], [593, 988, "b", "4"], [590, 1043, "b", "5"]];
let hubsD = [[660, 430, "g", "1"], [600, 485, "g", "2"], [695, 388, "g", "3"], [615, 545, "g", "4"], [700, 470, "g", "5"]];
let hubsE = [[835, 1115, "b", "1"], [775, 1155, "b", "2"], [865, 1145, "b", "3"], [990, 1090, "b", "4"], [870, 1022, "b", "5"]];
let hubsF = [[615, 845, "g", "1"], [570, 895, "g", "2"], [610, 920, "g", "3"], [600, 985, "r", "4"], [597, 1040, "r", "5"]];

// key taxa listed under the module networks
let listD = ["①Nanoarchaeota(g__norank_f__GW2011_GWC1_47_15)", "②Proteobacteria(g__Porphyrobacter)",
             "③Proteobacteria(g__norank_f__norank_o__KI89A_clade)", "④Actinobacteriota(g__Sporichthya)",
             "⑤Verrucomicrobiota(g__Candidatus_Renichlamydia)"];
let listE = ["①Verrucomicrobiota(g__norank_f__cvE6)", "②Proteobacteria(g__norank_f__Legionellaceae)",
             "③Actinobacteriota（g__Rhodoluna)", "④Proteobacteria(g__norank_f__Fodinicurvataceae)",
             "⑤Verrucomicrobiota(g__Prosthecobacte)"];
let listF = ["①Bacteroidota(g__unclassified_f__Balneolaceae)", "②Aenigmarchaeota(g__norank_f__norank_o__Aenigmarchaeales)",
             "③Patescibacteria（g__norank_f__norank_o__norank_c__WWE3)", "④Proteobacteria(g__Phenylobacterium)",
             "⑤Proteobacteria（g__Halomonas)"];

////////////////////////////////////////////////////////
//////////////////// Setup /////////////////////////////
////////////////////////////////////////////////////////

let width = 1902, height = 1362;
let serif = "'Liberation Serif', 'Times New Roman', 'Noto Sans CJK SC', serif";

let color = d3.scaleOrdinal().domain(nodeCodes.concat(["w"])).range(nodeColors.concat(["#ededed"]));
let radius = d3.scaleOrdinal().domain([0, 1, 2, 3, 4, 5]).range([2.5, 3.6, 5, 6.5, 7.5, 9.6]);

// panel placement on the page
let panels = [
  { letter: "A", cx: 309, cy: 267, box: [155, 1360, 65, 1535], nodes: nodesA, hubs: hubsA, hubR: 12.5 },
  { letter: "B", cx: 910, cy: 265, box: [130, 1455, 60, 1530], nodes: nodesB, hubs: hubsB, hubR: 9 },
  { letter: "C", cx: 1535, cy: 266, box: [238, 1305, 62, 1535], nodes: nodesC, hubs: hubsC, hubR: 10 },
  { letter: "D", cx: 310, cy: 771, box: [160, 1365, 48, 1525], nodes: nodesD, hubs: hubsD, hubR: 12.5 },
  { letter: "E", cx: 913, cy: 771, box: [135, 1480, 50, 1525], nodes: nodesE, hubs: hubsE, hubR: 9 },
  { letter: "F", cx: 1533, cy: 771, box: [230, 1300, 45, 1520], nodes: nodesF, hubs: hubsF, hubR: 10 }
];
let R = 246;

let parseNodes = function (groups) {
  let out = [];
  groups.forEach(([def, str]) => {
    str.trim().split(/\s+/).forEach(t => {
      let p = t.split(",");
      let code = p[2] || def;
      let size = code.length > 1 ? +code.slice(1) : +def.slice(1);
      out.push({ x: +p[0], y: +p[1], key: code[0], size: size });
    });
  });
  return out;
};

/////////////////////////////////////////////////////////
//////////////////// Creating the figure ////////////////
/////////////////////////////////////////////////////////

const svg = d3.select("#chart").append("svg")
  .attr("width", width)
  .attr("height", height)
  .attr("viewBox", [0, 0, width, height]);

svg.append("rect").attr("width", width).attr("height", height).attr("fill", "#fff");

// frame
let frame = svg.append("g").attr("stroke", "#333").attr("fill", "none");
frame.append("line").attr("x1", 6).attr("x2", 1896).attr("y1", 6).attr("y2", 6)
  .attr("stroke-width", 1.4).attr("stroke-dasharray", "2.5,2.5");
frame.append("line").attr("x1", 6).attr("x2", 1896).attr("y1", 1225).attr("y2", 1225)
  .attr("stroke-width", 1.4).attr("stroke-dasharray", "2.5,2.5");
[6, 627, 1189, 1896].forEach(x => {
  frame.append("line").attr("x1", x).attr("x2", x).attr("y1", 6).attr("y2", 1225)
    .attr("stroke-width", 1.3).attr("stroke-dasharray", "4,3");
});

panels.forEach(pn => {
  let g = svg.append("g");
  let x = d3.scaleLinear().domain([pn.box[0], pn.box[1]]).range([pn.cx - R, pn.cx + R]);
  let y = d3.scaleLinear().domain([pn.box[2], pn.box[3]]).range([pn.cy - R, pn.cy + R]);

  g.append("circle")
    .attr("cx", pn.cx).attr("cy", pn.cy).attr("r", R)
    .attr("fill", "none").attr("stroke", "#9a9a9a")
    .attr("stroke-width", 1).attr("stroke-dasharray", "1,2");

  g.append("g")
    .selectAll("circle")
    .data(parseNodes(pn.nodes))
    .join("circle")
    .attr("cx", d => x(d.x))
    .attr("cy", d => y(d.y))
    .attr("r", d => radius(d.size))
    .attr("fill", d => color(d.key))
    .attr("stroke", "#2d2d2d")
    .attr("stroke-width", d => d.size < 2 ? 0.7 : 0.9);

  let hub = g.append("g")
    .selectAll("g")
    .data(pn.hubs)
    .join("g")
    .attr("transform", d => `translate(${x(d[0])},${y(d[1])})`);

  hub.append("circle")
    .attr("r", pn.hubR)
    .attr("fill", d => color(d[2]))
    .attr("stroke", "#000")
    .attr("stroke-width", pn.hubR > 11 ? 3.2 : 2.6);

  hub.append("text")
    .attr("text-anchor", "middle")
    .attr("dy", "0.36em")
    .attr("font-family", serif)
    .attr("font-size", pn.hubR * 1.5)
    .attr("fill", "#333")
    .text(d => d[3]);

  svg.append("text")
    .attr("x", pn.cx < 600 ? 14 : (pn.cx < 1200 ? 638 : 1202))
    .attr("y", pn.cy < 500 ? 38 : 543)
    .attr("font-family", "'Liberation Sans', Arial, sans-serif")
    .attr("font-weight", "bold")
    .attr("font-size", 28)
    .attr("fill", "#000")
    .text(pn.letter);
});

// key taxa lists
let lineY = d3.scalePoint().domain(d3.range(5)).range([1048, 1207]);
[listD, listE, listF].forEach((list, i) => {
  svg.append("g")
    .selectAll("text")
    .data(list)
    .join("text")
    .attr("x", [16, 630, 1195][i])
    .attr("y", (d, j) => lineY(j))
    .attr("font-family", serif)
    .attr("font-size", 25.5)
    .attr("fill", "#1a1a1a")
    .text(d => d);
});

// legends
let legend = function (names, colors, title, titleX, xs, ys, size, fontSize) {
  let lg = svg.append("g");
  lg.append("text")
    .attr("x", titleX).attr("y", 1261)
    .attr("font-family", serif).attr("font-size", 23).attr("fill", "#1a1a1a")
    .text(title);
  let item = lg.selectAll("g")
    .data(names)
    .join("g")
    .attr("transform", (d, i) => `translate(${xs[i % xs.length]},${ys[Math.floor(i / xs.length)]})`);
  item.append("rect")
    .attr("x", 0).attr("y", -size / 2)
    .attr("width", size).attr("height", size)
    .attr("fill", (d, i) => colors[i]);
  item.append("text")
    .attr("x", size + 1).attr("y", fontSize * 0.33)
    .attr("font-family", serif).attr("font-size", fontSize).attr("fill", "#1a1a1a")
    .text(d => d);
};

legend(phyla, phylaColors, "(a-c)", 33, [110, 293, 471, 640, 827], [1292, 1343], 11, 22.8);
legend(modules, moduleColors, "(d-f)", 1091, [1172, 1352, 1532, 1712], [1277, 1343], 12, 25);
</script>
</body>
</html>
